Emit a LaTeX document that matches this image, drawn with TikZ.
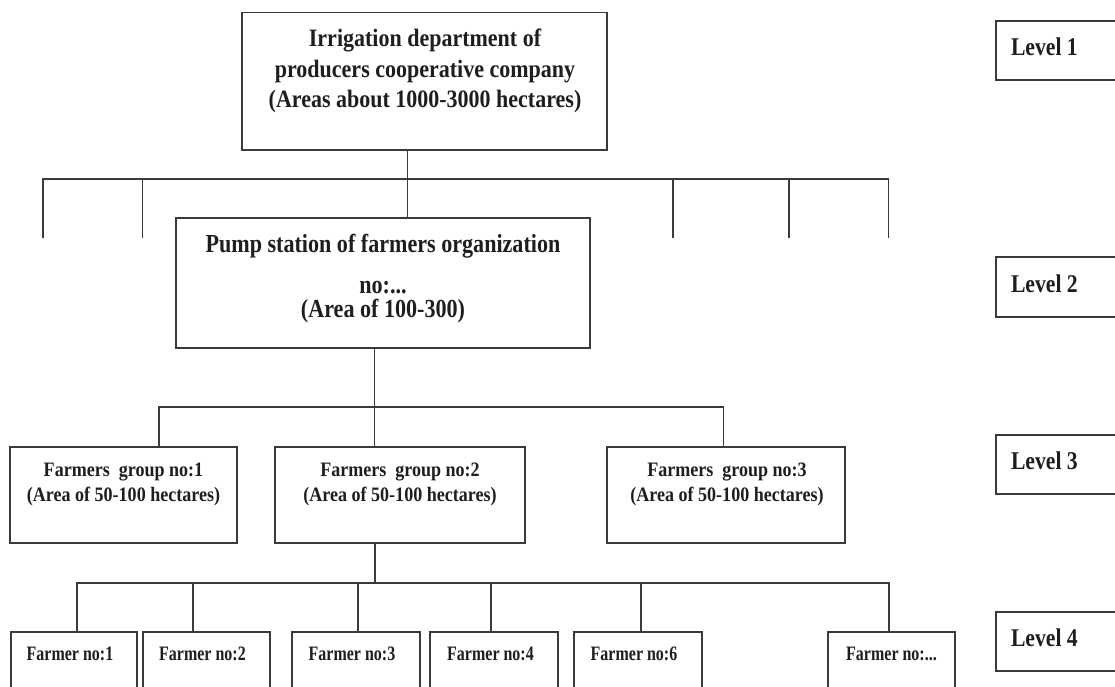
\documentclass[tikz,border=0pt]{standalone}
\usepackage{fontspec}
\setmainfont{Liberation Serif}
\newfontfamily\fa[FakeStretch=0.88]{Liberation Serif}
\newfontfamily\fb[FakeStretch=0.85]{Liberation Serif}
\newfontfamily\fc[FakeStretch=0.78]{Liberation Serif}
\definecolor{ln}{HTML}{3A3A3A}
\definecolor{tx}{HTML}{1E1E1E}
\tikzset{
  box/.style={draw=ln, line width=1.8pt, rectangle, inner sep=0pt, outer sep=0pt, fill=none},
  conn/.style={draw=ln, line width=1.8pt},
  txt/.style={inner sep=0pt, outer sep=0pt, text=tx, align=center},
  toptxt/.style={txt, font=\fa\bfseries\fontsize{25}{30.5}\selectfont, anchor=north},
  pumptxt/.style={txt, font=\fb\bfseries\fontsize{26}{24}\selectfont, anchor=north},
  grptxt/.style={txt, font=\fa\bfseries\fontsize{20.5}{25.7}\selectfont, anchor=north},
  farmtxt/.style={txt, font=\fc\bfseries\fontsize{20.5}{22}\selectfont, anchor=base},
  levtxt/.style={txt, font=\fb\bfseries\fontsize{25.5}{28}\selectfont, anchor=base west},
}
\begin{document}
\begin{tikzpicture}[x=1pt,y=-1pt]
\useasboundingbox (0,0) rectangle (1115,686);
\fill[white] (0,0) rectangle (1115,686);
\clip (0,0) rectangle (1115,686);

% Level 1
\node[box, minimum width=365pt, minimum height=137.5pt] (top) at (424.5,81.25) {};
\node[toptxt] (toptext) at (425,29.2) {Irrigation department of\\producers cooperative company\\(Areas about 1000-3000 hectares)};

% Level 2
\node[box, minimum width=414pt, minimum height=130pt] (pump) at (383,283) {};
\node[pumptxt] (pumptext) at (383,234.4) {Pump station of farmers organization\\[17pt]no:...\\(Area of 100-300)};

% Level 3
\node[box, minimum width=227pt, minimum height=96pt] (grp1) at (123.5,495) {};
\node[box, minimum width=250pt, minimum height=96pt] (grp2) at (400,495) {};
\node[box, minimum width=238pt, minimum height=96pt] (grp3) at (726,495) {};
\node[grptxt] (g1text) at (123.5,462.6) {Farmers\ \ group no:1\\(Area of 50-100 hectares)};
\node[grptxt] (g2text) at (400,462.6) {Farmers\ \ group no:2\\(Area of 50-100 hectares)};
\node[grptxt] (g3text) at (727,462.6) {Farmers\ \ group no:3\\(Area of 50-100 hectares)};

% Level 4
\node[box, minimum width=126pt, minimum height=68pt] (f1) at (74,666) {};
\node[box, minimum width=127pt, minimum height=68pt] (f2) at (206.5,666) {};
\node[box, minimum width=128pt, minimum height=68pt] (f3) at (356,666) {};
\node[box, minimum width=128pt, minimum height=68pt] (f4) at (494,666) {};
\node[box, minimum width=128pt, minimum height=68pt] (f6) at (638,666) {};
\node[box, minimum width=127pt, minimum height=68pt] (fn) at (891.5,666) {};
\node[farmtxt] (f1text) at (70,660) {Farmer no:1};
\node[farmtxt] (f2text) at (202.5,660) {Farmer no:2};
\node[farmtxt] (f3text) at (352,660) {Farmer no:3};
\node[farmtxt] (f4text) at (490.5,660) {Farmer no:4};
\node[farmtxt] (f6text) at (634,660) {Farmer no:6};
\node[farmtxt] (fntext) at (891.5,660) {Farmer no:...};

% Level labels
\node[box, minimum width=134pt, minimum height=59pt] (lev1) at (1063,50.5) {};
\node[box, minimum width=134pt, minimum height=59.5pt] (lev2) at (1063,287) {};
\node[box, minimum width=134pt, minimum height=59pt] (lev3) at (1063,464.5) {};
\node[box, minimum width=134pt, minimum height=59pt] (lev4) at (1063,641.5) {};
\node[levtxt] (l1text) at (1011,55.5) {Level 1};
\node[levtxt] (l2text) at (1011,292) {Level 2};
\node[levtxt] (l3text) at (1011,469.5) {Level 3};
\node[levtxt] (l4text) at (1011,646.5) {Level 4};

% bus 1
\coordinate (j1) at (407.5,179);
\coordinate (e1) at (43,238);
\coordinate (e2) at (142.5,238);
\coordinate (e3) at (673,238);
\coordinate (e4) at (789,238);
\coordinate (e5) at (888.5,238);
\draw[conn] (top.south -| j1) -- (pump.north -| j1);
\draw[conn] (e1) |- (j1) -| (e5);
\draw[conn] (e2) -- (e2 |- j1);
\draw[conn] (e3) -- (e3 |- j1);
\draw[conn] (e4) -- (e4 |- j1);

% bus 2
\coordinate (j2) at (374.5,407);
\coordinate (c1) at (159,407);
\coordinate (c3) at (723.5,407);
\draw[conn] (pump.south -| j2) -- (grp2.north -| j2);
\draw[conn] (grp1.north -| c1) |- (j2) -| (grp3.north -| c3);

% bus 3
\coordinate (j3) at (375,583);
\coordinate (k1) at (77,583);
\coordinate (k2) at (193,583);
\coordinate (k3) at (358,583);
\coordinate (k4) at (491,583);
\coordinate (k5) at (641,583);
\coordinate (k6) at (889,583);
\draw[conn] (grp2.south -| j3) -- (j3);
\draw[conn] (f1.north -| k1) |- (j3) -| (fn.north -| k6);
\draw[conn] (k2) -- (f2.north -| k2);
\draw[conn] (k3) -- (f3.north -| k3);
\draw[conn] (k4) -- (f4.north -| k4);
\draw[conn] (k5) -- (f6.north -| k5);
\end{tikzpicture}
\end{document}
